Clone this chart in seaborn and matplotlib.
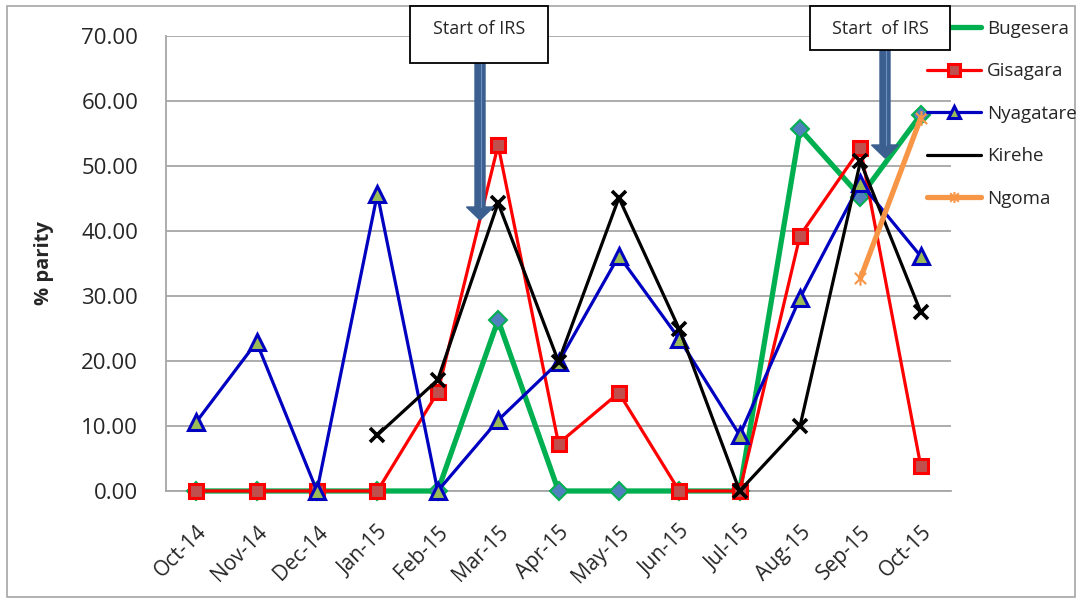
import numpy as np
import pandas as pd
import matplotlib
matplotlib.use("Agg")
import matplotlib.pyplot as plt
import seaborn as sns
from matplotlib.lines import Line2D
from matplotlib.patches import Rectangle, FancyArrow
from matplotlib.path import Path
from matplotlib.transforms import IdentityTransform

nan = np.nan

months = ["Oct-14", "Nov-14", "Dec-14", "Jan-15", "Feb-15", "Mar-15", "Apr-15",
          "May-15", "Jun-15", "Jul-15", "Aug-15", "Sep-15", "Oct-15"]
bugesera = [0, 0, 0, 0, 0, 26.3, 0, 0, 0, 0, 55.7, 45.3, 57.9]
gisagara = [0, 0, 0, 0, 15.2, 53.2, 7.3, 15.1, 0, 0, 39.3, 52.7, 3.8]
nyagatare = [10.6, 22.9, 0, 45.7, 0, 10.9, 19.8, 36.2, 23.4, 8.6, 29.7, 47.4, 36.1]
kirehe = [nan, nan, nan, 8.6, 17.1, 44.3, 19.9, 45.1, 24.9, 0, 10.0, 50.7, 27.5]
ngoma = [nan] * 11 + [32.7, 57.4]
y_ticks = [0, 10, 20, 30, 40, 50, 60, 70]

sns.set_style("white")
plt.rcParams["font.family"] = ["Open Sans", "DejaVu Sans"]

W, H = 1077, 598
fig = plt.figure(figsize=(W / 100, H / 100), dpi=100)
ax = fig.add_axes([166 / W, 1 - 491 / H, (951 - 166) / W, (491 - 36) / H])

x = np.arange(len(months))

# Excel-style asterisk: an "x" with a vertical stroke through it
star = Path([(-1, -1), (1, 1), (-1, 1), (1, -1), (0, -1.3), (0, 1.3)],
            [Path.MOVETO, Path.LINETO, Path.MOVETO, Path.LINETO, Path.MOVETO, Path.LINETO])

series = [
    ("Bugesera", bugesera, dict(color="#00B050", lw=3.8, marker="D", markersize=9,
                                markerfacecolor="#4F81BD", markeredgecolor="#00B050", markeredgewidth=1.5)),
    ("Gisagara", gisagara, dict(color="#FF0000", lw=2.3, marker="s", markersize=10.5,
                                markerfacecolor="#C0504D", markeredgecolor="#FF0000", markeredgewidth=2.2)),
    ("Nyagatare", nyagatare, dict(color="#0000C0", lw=2.3, marker="^", markersize=11,
                                  markerfacecolor="#9BBB59", markeredgecolor="#0000C0", markeredgewidth=2.2)),
    ("Kirehe", kirehe, dict(color="#000000", lw=2.3, marker="x", markersize=10.5,
                            markeredgecolor="#000000", markeredgewidth=2.6)),
    ("Ngoma", ngoma, dict(color="#F79646", lw=3.8, marker=star, markersize=10.5,
                          markeredgecolor="#F79646", markeredgewidth=1.5)),
]

for name, vals, style in series:
    df = pd.DataFrame({"month": x, "value": vals})
    sns.lineplot(data=df, x="month", y="value", ax=ax, clip_on=False, **style)

ax.set_xlim(-0.5, len(months) - 0.5)
ax.set_ylim(0, 70)
ax.set_yticks(y_ticks)
ax.set_yticklabels([f"{v:.2f}" for v in y_ticks], fontsize=16)
ax.set_xticks(x)
ax.set_xticklabels(months, fontsize=15, rotation=45, ha="right", va="top",
                   rotation_mode="anchor")
ax.tick_params(axis="y", length=0, pad=20)
ax.tick_params(axis="x", length=0, pad=22)
ax.set_xlabel("")
ax.set_ylabel("% parity", fontsize=14.5, fontweight="bold", labelpad=20)
ax.yaxis.grid(True, color="#A6A6A6", lw=1.3)
ax.xaxis.grid(False)
for side in ["top", "right"]:
    ax.spines[side].set_visible(False)
for side in ["left", "bottom"]:
    ax.spines[side].set_color("#A6A6A6")
    ax.spines[side].set_linewidth(1.3)
ax.spines["bottom"].set_zorder(0.5)

# legend (smaller markers than on the plot)
def legend_style(style, size):
    s = dict(style)
    s["markersize"] = size
    return s

handles = [
    Line2D([], [], color="#00B050", lw=3.8),
    Line2D([], [], **legend_style(series[1][2], 8)),
    Line2D([], [], **legend_style(series[2][2], 8)),
    Line2D([], [], color="#000000", lw=2.3),
    Line2D([], [], **legend_style(series[4][2], 8)),
]
leg = fig.legend(handles, [s[0] for s in series], loc="upper left",
                 bbox_to_anchor=(927 / W, 1 - 20 / H), frameon=False, fontsize=13.5,
                 handlelength=2.9, handletextpad=0.3, labelspacing=1.3, borderpad=0,
                 borderaxespad=0)
leg.set_zorder(5)

# "Start of IRS" callouts with arrows
ident = IdentityTransform()
callouts = [
    ("Start of IRS", 410, 548, 63, 480, 220),
    ("Start  of IRS", 810, 950, 50, 885, 158),
]
for text, x0, x1, ybot, ax_x, tip in callouts:
    arr = FancyArrow(ax_x, H - ybot, 0, -(tip - ybot), width=10, head_width=27,
                     head_length=13, length_includes_head=True, color="#3B5F8F",
                     transform=ident, zorder=8)
    fig.add_artist(arr)
    fig.add_artist(Line2D([ax_x + 1, ax_x + 1], [H - ybot, H - (tip - 13)], color="#6E8FC0",
                          lw=0.8, transform=ident, zorder=8.5))
    box = Rectangle((x0, H - ybot), x1 - x0, ybot - 6, facecolor="white",
                    edgecolor="black", lw=1.3, transform=ident, zorder=9)
    fig.add_artist(box)
    fig.text((x0 + x1) / 2 / W, 1 - 29 / H, text, ha="center", va="center",
             fontsize=13, zorder=10)

# outer border of the chart area
fig.add_artist(Rectangle((7, 1), W - 9, H - 7, facecolor="none", edgecolor="#A6A6A6",
                         lw=1.2, transform=ident, zorder=0))

fig.savefig("out.png", dpi=100)
